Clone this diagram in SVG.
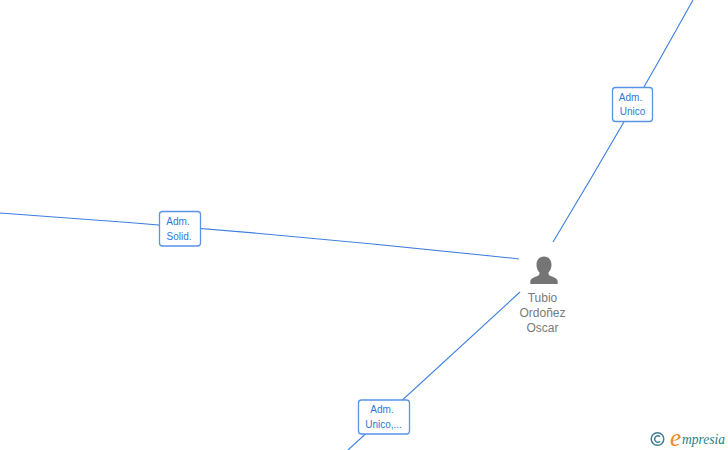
<svg xmlns="http://www.w3.org/2000/svg" width="728" height="450" viewBox="0 0 728 450">
<style>
.c{fill:none;stroke:#3c7fe0;stroke-width:1.1}
.b{fill:#fff;stroke:#5a93e6;stroke-width:1.3}
.l{font:10px "Liberation Sans",Arial,sans-serif;fill:#2f78d8;text-anchor:middle}
.n{font:12px "Liberation Sans",Arial,sans-serif;fill:#7a7a7a;text-anchor:middle}
</style>
<rect width="728" height="450" fill="#fff"/>
<g id="connectors">
<path class="c" d="M693 0Q626 121 553 242"/>
<path class="c" d="M0 213Q260 231 519 259"/>
<path class="c" d="M520 292L348 450"/>
</g>
<g id="edge-label-1"><rect class="b" x="612.500" y="87.500" width="40" height="34" rx="3"/><text class="l" x="630.500" y="100.500">Adm.</text><text class="l" x="632.500" y="115">Unico</text></g>
<g id="edge-label-2"><rect class="b" x="159.500" y="211.500" width="41" height="34.500" rx="3"/><text class="l" x="178" y="225">Adm.</text><text class="l" x="179" y="240">Solid.</text></g>
<g id="edge-label-3"><rect class="b" x="358.500" y="400" width="51" height="34" rx="3"/><text class="l" x="382" y="413">Adm.</text><text class="l" x="383.500" y="428">Unico,...</text></g>
<g id="person">
<path fill="#757575" d="M544 256.500c-5 0-7.500 3.800-7.500 8.200 0 3.200 1.200 6 3 7.800 0 1.800-.3 2.600-1.500 3.200-3 1.400-7.700 2.400-7.700 5.800V284h27.400v-2.500c0-3.400-4.700-4.400-7.700-5.800-1.200-.6-1.500-1.400-1.500-3.200 1.800-1.800 3-4.600 3-7.800 0-4.400-2.500-8.200-7.500-8.200z"/>
<text class="n" x="542.500" y="302">Tubio</text><text class="n" x="542.500" y="317">Ordoñez</text><text class="n" x="542.500" y="332">Oscar</text>
</g>
<g id="logo">
<circle cx="657.500" cy="439" r="6.300" fill="none" stroke="#3f7f96" stroke-width="1.500"/>
<path d="M660 436.800a3.100 3.100 0 1 0 0 4.400" fill="none" stroke="#3f7f96" stroke-width="1.300"/>
<text x="670" y="446" font-family="'Liberation Serif',serif" font-style="italic" font-size="25" fill="#ef8a1d">e</text>
<text x="682" y="444" font-family="'Liberation Serif',serif" font-style="italic" font-size="14" fill="#1f7f8c" textLength="43" lengthAdjust="spacingAndGlyphs">mpresia</text>
</g>
</svg>
